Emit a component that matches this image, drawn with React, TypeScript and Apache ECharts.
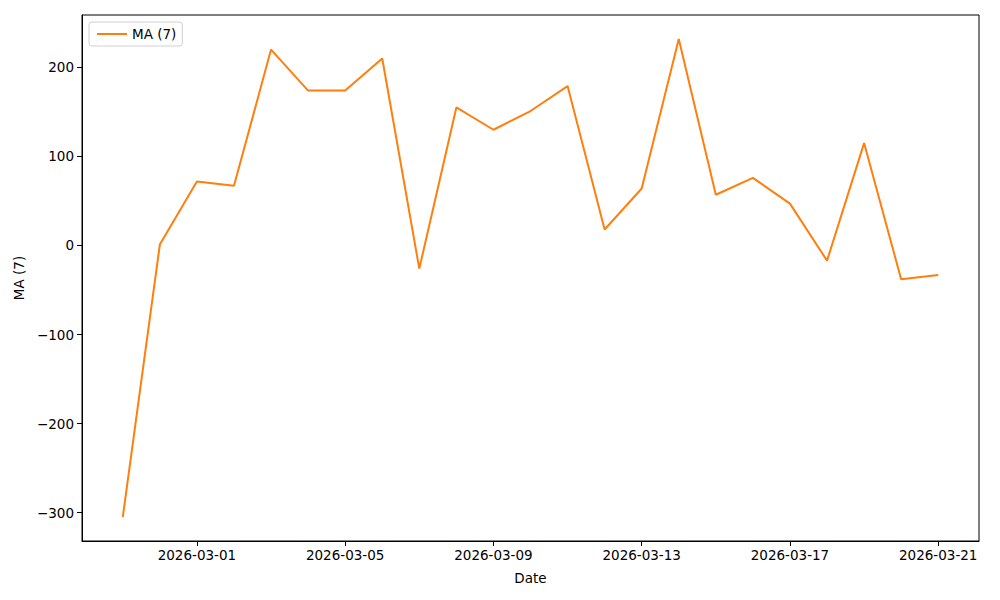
import React, { useEffect, useRef } from "react";
import * as echarts from "echarts";

const dates = [
  "2026-02-27", "2026-02-28", "2026-03-01", "2026-03-02", "2026-03-03", "2026-03-04",
  "2026-03-05", "2026-03-06", "2026-03-07", "2026-03-08", "2026-03-09", "2026-03-10",
  "2026-03-11", "2026-03-12", "2026-03-13", "2026-03-14", "2026-03-15", "2026-03-16",
  "2026-03-17", "2026-03-18", "2026-03-19", "2026-03-20", "2026-03-21",
];
const maValues = [
  -305, 1, 72, 67, 220, 174, 174, 210, -26, 155, 130, 151, 179, 18, 64, 232, 57, 76, 47, -17, 115, -38, -33,
];
const xTickDates = ["2026-03-01", "2026-03-05", "2026-03-09", "2026-03-13", "2026-03-17", "2026-03-21"];
const yTicks = [-300, -200, -100, 0, 100, 200];

const DAY = 86400000;
const ref0 = Date.UTC(2026, 2, 1);
const toDay = (s: string) => {
  const [y, m, d] = s.split("-").map(Number);
  return (Date.UTC(y, m - 1, d) - ref0) / DAY;
};
const dayToLabel = (v: number) => {
  const dt = new Date(ref0 + Math.round(v) * DAY);
  const mm = String(dt.getUTCMonth() + 1).padStart(2, "0");
  const dd = String(dt.getUTCDate()).padStart(2, "0");
  return `${dt.getUTCFullYear()}-${mm}-${dd}`;
};

export default function App() {
  const ref = useRef<HTMLDivElement>(null);
  useEffect(() => {
    if (!ref.current) return;
    const chart = echarts.init(ref.current, undefined, { renderer: "svg" });
    const xs = dates.map(toDay);
    const xMin = Math.min(...xs), xMax = Math.max(...xs);
    const xPad = (xMax - xMin) * 0.05;
    const yMinD = Math.min(...maValues), yMaxD = Math.max(...maValues);
    const yPad = (yMaxD - yMinD) * 0.05;
    const font = "DejaVu Sans";
    chart.setOption({
      animation: false,
      backgroundColor: "#ffffff",
      textStyle: { fontFamily: font },
      grid: { left: 82, right: 21, top: 15, bottom: 59, show: true, borderColor: "#000", borderWidth: 1, backgroundColor: "transparent" },
      legend: {
        show: true,
        left: 89,
        top: 22,
        padding: [5, 6, 5, 8],
        backgroundColor: "#fff",
        borderColor: "#d0d0d0",
        borderWidth: 1,
        borderRadius: 3,
        itemWidth: 30,
        itemHeight: 2,
        itemGap: 8,
        icon: "rect",
        textStyle: { fontFamily: font, fontSize: 13.5, color: "#000" },
        data: [{ name: "MA (7)", icon: "rect" }],
      },
      xAxis: {
        type: "value",
        min: xMin - xPad,
        max: xMax + xPad,
        name: "Date",
        nameLocation: "middle",
        nameGap: 30,
        nameTextStyle: { fontFamily: font, fontSize: 13.5, color: "#000" },
        axisLine: { show: true, onZero: false, lineStyle: { color: "#000" } },
        axisTick: { show: true, inside: false, length: 5, lineStyle: { color: "#000" }, customValues: xTickDates.map(toDay) },
        axisLabel: {
          show: true,
          color: "#000",
          fontSize: 13.5,
          fontFamily: font,
          margin: 7,
          customValues: xTickDates.map(toDay),
          formatter: (v: number) => dayToLabel(v),
        },
        splitLine: { show: false },
      },
      yAxis: {
        type: "value",
        min: yMinD - yPad,
        max: yMaxD + yPad,
        name: "MA (7)",
        nameLocation: "middle",
        nameGap: 53,
        nameRotate: 90,
        nameTextStyle: { fontFamily: font, fontSize: 13.5, color: "#000" },
        axisLine: { show: true, onZero: false, lineStyle: { color: "#000" } },
        axisTick: { show: true, inside: false, length: 5, lineStyle: { color: "#000" }, customValues: yTicks },
        axisLabel: {
          show: true,
          color: "#000",
          fontSize: 13.5,
          fontFamily: font,
          margin: 8,
          customValues: yTicks,
          formatter: (v: number) => String(v).replace("-", "\u2212"),
        },
        splitLine: { show: false },
      },
      series: [
        {
          name: "MA (7)",
          type: "line",
          data: xs.map((x, i) => [x, maValues[i]]),
          showSymbol: false,
          symbol: "none",
          itemStyle: { color: "#ff7f0e" },
          lineStyle: { color: "#ff7f0e", width: 2 },
        },
      ],
    });
    return () => chart.dispose();
  }, []);
  return <div ref={ref} style={{ width: 1000, height: 600, position: "absolute", left: 0, top: 0 }} />;
}
